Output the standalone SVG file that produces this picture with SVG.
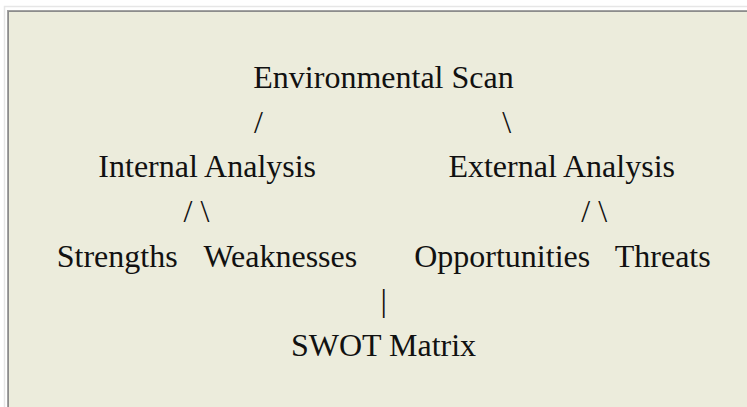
<svg xmlns="http://www.w3.org/2000/svg" width="747" height="407" viewBox="0 0 747 407">
  <style>
    .t { font-family: "Liberation Serif", "Times New Roman", serif; font-size: 32px; fill: #111; text-anchor: middle; }
  </style>
  <rect x="0" y="0" width="747" height="407" fill="#ffffff"/>
  <rect x="4.5" y="6.5" width="800" height="500" fill="#ffffff" stroke="#e6e6e6" stroke-width="1.5"/>
  <rect x="7" y="10" width="800" height="500" fill="#a2a2a2"/>
  <rect x="8" y="11" width="800" height="500" fill="#8c8c8c"/>
  <rect x="9" y="12" width="800" height="500" fill="#ececdc"/>

  <g id="node-env"><text class="t" x="383.5" y="88">Environmental Scan</text></g>
  <g id="node-internal"><text class="t" x="207.2" y="177">Internal Analysis</text></g>
  <g id="node-external"><text class="t" x="561.7" y="177">External Analysis</text></g>
  <g id="node-strengths"><text class="t" x="117.2" y="266.5">Strengths</text></g>
  <g id="node-weaknesses"><text class="t" x="280.3" y="266.5">Weaknesses</text></g>
  <g id="node-opportunities"><text class="t" x="502.2" y="266.5">Opportunities</text></g>
  <g id="node-threats"><text class="t" x="662.7" y="266.5">Threats</text></g>
  <g id="node-swot"><text class="t" x="383.5" y="356">SWOT Matrix</text></g>

  <g id="connectors">
    <text class="t" x="258.5" y="132.5">/</text>
    <text class="t" x="506.8" y="132.5">\</text>
    <text class="t" x="196.5" y="222">/ \</text>
    <text class="t" x="594.2" y="222">/ \</text>
    <text class="t" x="383.6" y="311">|</text>
  </g>
</svg>
